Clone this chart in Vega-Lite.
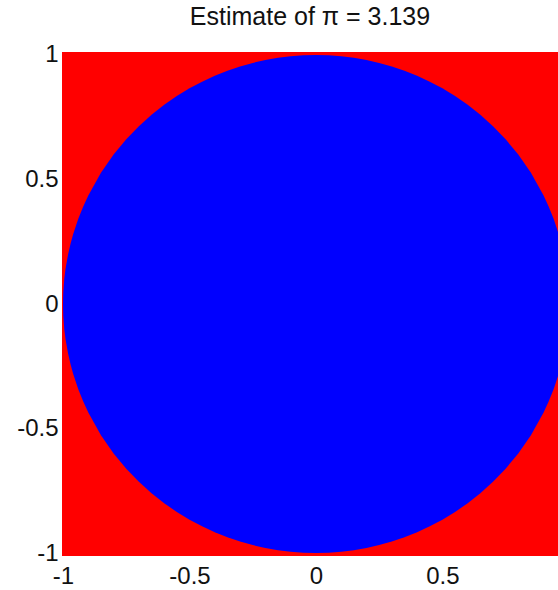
{
  "$schema": "https://vega.github.io/schema/vega-lite/v6.json",
  "width": 496,
  "height": 504,
  "autosize": "none",
  "padding": {"left": 62, "top": 52, "right": 0, "bottom": 34},
  "background": "white",
  "title": {
    "text": "Estimate of π = 3.139",
    "font": "Liberation Sans",
    "fontSize": 25,
    "fontWeight": "normal",
    "color": "#111",
    "anchor": "middle",
    "frame": "group",
    "baseline": "alphabetic",
    "offset": 0,
    "dy": 7
  },
  "config": {
    "view": {"stroke": null},
    "axis": {
      "labelFont": "Liberation Sans",
      "labelFontSize": 24,
      "labelColor": "#111",
      "labelExpr": "datum.value + ''",
      "ticks": false,
      "domain": false,
      "grid": false,
      "title": null
    }
  },
  "layer": [
    {
      "data": {"values": [{"x1": -1.004, "x2": 1, "y1": -1.012, "y2": 1.012}]},
      "mark": {"type": "rect", "color": "#ff0000", "clip": true},
      "encoding": {
        "x": {"field": "x1", "type": "quantitative", "scale": {"domain": [-1.004, 0.957], "nice": false, "zero": false},
              "axis": {"values": [-1, -0.5, 0, 0.5], "labelPadding": 8}},
        "x2": {"field": "x2"},
        "y": {"field": "y1", "type": "quantitative", "scale": {"domain": [-1.012, 1.012], "nice": false, "zero": false},
              "axis": {"values": [-1, -0.5, 0, 0.5, 1], "labelPadding": 4}},
        "y2": {"field": "y2"}
      }
    },
    {
      "data": {"values": [
        {"x": -1, "top": 0, "bottom": 0},
        {"x": -0.999, "top": 0.0447, "bottom": -0.0447},
        {"x": -0.995, "top": 0.0999, "bottom": -0.0999},
        {"x": -0.99, "top": 0.1411, "bottom": -0.1411},
        {"x": -0.98, "top": 0.199, "bottom": -0.199},
        {"x": -0.97, "top": 0.2431, "bottom": -0.2431},
        {"x": -0.96, "top": 0.28, "bottom": -0.28},
        {"x": -0.94, "top": 0.3412, "bottom": -0.3412},
        {"x": -0.92, "top": 0.3919, "bottom": -0.3919},
        {"x": -0.9, "top": 0.4359, "bottom": -0.4359},
        {"x": -0.85, "top": 0.5268, "bottom": -0.5268},
        {"x": -0.8, "top": 0.6, "bottom": -0.6},
        {"x": -0.75, "top": 0.6614, "bottom": -0.6614},
        {"x": -0.7, "top": 0.7141, "bottom": -0.7141},
        {"x": -0.65, "top": 0.7599, "bottom": -0.7599},
        {"x": -0.6, "top": 0.8, "bottom": -0.8},
        {"x": -0.55, "top": 0.8352, "bottom": -0.8352},
        {"x": -0.5, "top": 0.866, "bottom": -0.866},
        {"x": -0.45, "top": 0.893, "bottom": -0.893},
        {"x": -0.4, "top": 0.9165, "bottom": -0.9165},
        {"x": -0.35, "top": 0.9367, "bottom": -0.9367},
        {"x": -0.3, "top": 0.9539, "bottom": -0.9539},
        {"x": -0.25, "top": 0.9682, "bottom": -0.9682},
        {"x": -0.2, "top": 0.9798, "bottom": -0.9798},
        {"x": -0.15, "top": 0.9887, "bottom": -0.9887},
        {"x": -0.1, "top": 0.995, "bottom": -0.995},
        {"x": -0.05, "top": 0.9987, "bottom": -0.9987},
        {"x": 0, "top": 1, "bottom": -1},
        {"x": 0.05, "top": 0.9987, "bottom": -0.9987},
        {"x": 0.1, "top": 0.995, "bottom": -0.995},
        {"x": 0.15, "top": 0.9887, "bottom": -0.9887},
        {"x": 0.2, "top": 0.9798, "bottom": -0.9798},
        {"x": 0.25, "top": 0.9682, "bottom": -0.9682},
        {"x": 0.3, "top": 0.9539, "bottom": -0.9539},
        {"x": 0.35, "top": 0.9367, "bottom": -0.9367},
        {"x": 0.4, "top": 0.9165, "bottom": -0.9165},
        {"x": 0.45, "top": 0.893, "bottom": -0.893},
        {"x": 0.5, "top": 0.866, "bottom": -0.866},
        {"x": 0.55, "top": 0.8352, "bottom": -0.8352},
        {"x": 0.6, "top": 0.8, "bottom": -0.8},
        {"x": 0.65, "top": 0.7599, "bottom": -0.7599},
        {"x": 0.7, "top": 0.7141, "bottom": -0.7141},
        {"x": 0.75, "top": 0.6614, "bottom": -0.6614},
        {"x": 0.8, "top": 0.6, "bottom": -0.6},
        {"x": 0.85, "top": 0.5268, "bottom": -0.5268},
        {"x": 0.9, "top": 0.4359, "bottom": -0.4359},
        {"x": 0.92, "top": 0.3919, "bottom": -0.3919},
        {"x": 0.94, "top": 0.3412, "bottom": -0.3412},
        {"x": 0.96, "top": 0.28, "bottom": -0.28},
        {"x": 0.97, "top": 0.2431, "bottom": -0.2431},
        {"x": 0.98, "top": 0.199, "bottom": -0.199},
        {"x": 0.99, "top": 0.1411, "bottom": -0.1411},
        {"x": 0.995, "top": 0.0999, "bottom": -0.0999},
        {"x": 0.999, "top": 0.0447, "bottom": -0.0447},
        {"x": 1, "top": 0, "bottom": 0}
      ]},
      "mark": {"type": "area", "color": "#0000ff", "opacity": 1, "clip": true},
      "encoding": {
        "x": {"field": "x", "type": "quantitative", "sort": null},
        "y": {"field": "top", "type": "quantitative"},
        "y2": {"field": "bottom"}
      }
    }
  ]
}
